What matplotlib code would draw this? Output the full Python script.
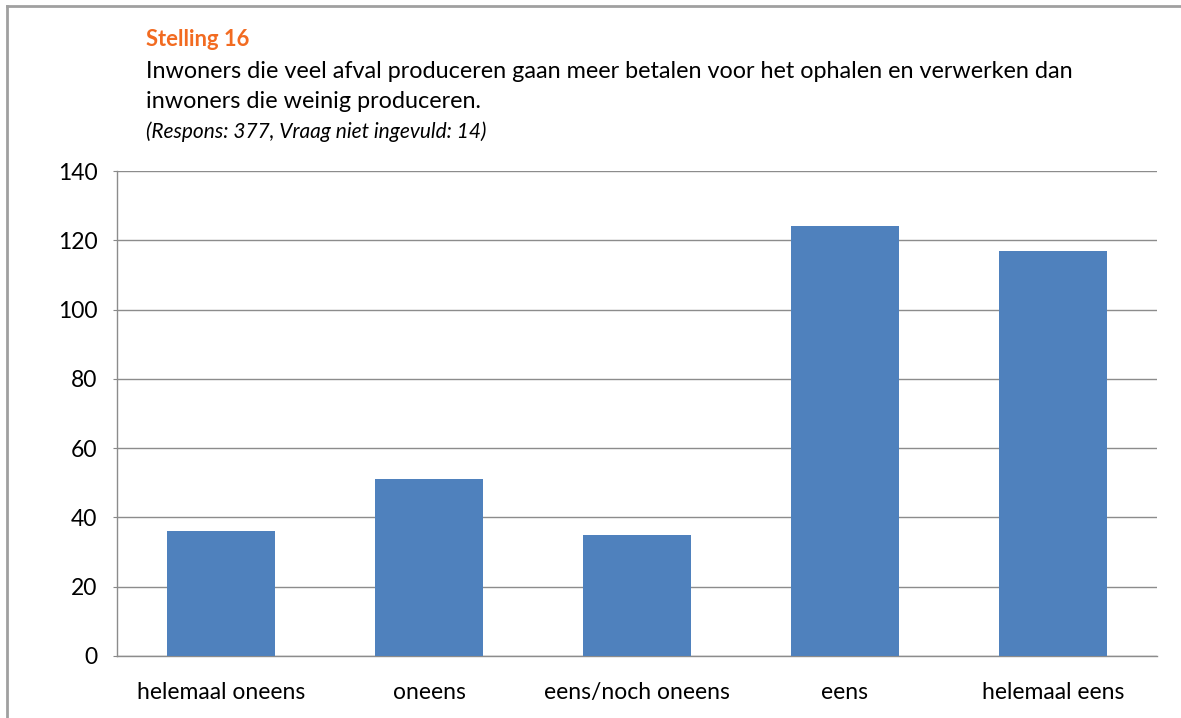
import matplotlib.pyplot as plt
from matplotlib.lines import Line2D

# data
categories = ["helemaal oneens", "oneens", "eens/noch oneens", "eens", "helemaal eens"]
counts = [36, 51, 35, 124, 117]
yticks = [0, 20, 40, 60, 80, 100, 120, 140]

plt.rcParams["font.family"] = ["Lato", "DejaVu Sans"]

fig = plt.figure(figsize=(11.81, 7.18), dpi=100)
W, H = 1181, 718

# axes box in pixels: left 117, right 1157, top 171, bottom 656
ax = fig.add_axes([117 / W, 1 - 656 / H, (1157 - 117) / W, (656 - 171) / H])

ax.bar(range(len(categories)), counts, width=0.515, color="#4F81BD", zorder=3)
ax.set_xlim(-0.5, len(categories) - 0.5)
ax.set_ylim(0, 140)
ax.set_yticks(yticks)
ax.set_xticks(range(len(categories)))
ax.set_xticklabels(categories, fontsize=16.5)
ax.tick_params(axis="y", labelsize=16.5, length=3, color="#888888", pad=11)
ax.tick_params(axis="x", length=0, pad=19)
ax.grid(axis="y", color="#8c8c8c", linewidth=1, zorder=0)

for s in ["top", "right"]:
    ax.spines[s].set_visible(False)
for s in ["left", "bottom"]:
    ax.spines[s].set_color("#8c8c8c")
    ax.spines[s].set_linewidth(1)

# outer frame (cropped, only left and top visible)
fig.add_artist(Line2D([7 / W, 7 / W], [0, 1 - 6 / H], color="#a0a0a0", linewidth=2))
fig.add_artist(Line2D([7 / W, 1], [1 - 6 / H, 1 - 6 / H], color="#a0a0a0", linewidth=2))

# titles
fig.text(146 / W, 1 - 40 / H, "Stelling 16", fontsize=15.8, fontweight="bold",
         color="#F26B21", va="center")
fig.text(146 / W, 1 - 72 / H,
         "Inwoners die veel afval produceren gaan meer betalen voor het ophalen en verwerken dan",
         fontsize=16.8, va="center")
fig.text(146 / W, 1 - 102 / H, "inwoners die weinig produceren.", fontsize=16.8, va="center")
fig.text(146 / W, 1 - 132 / H, "(Respons: 377, Vraag niet ingevuld: 14)", fontsize=15,
         style="italic", va="center")

fig.savefig("out.png", dpi=100)
